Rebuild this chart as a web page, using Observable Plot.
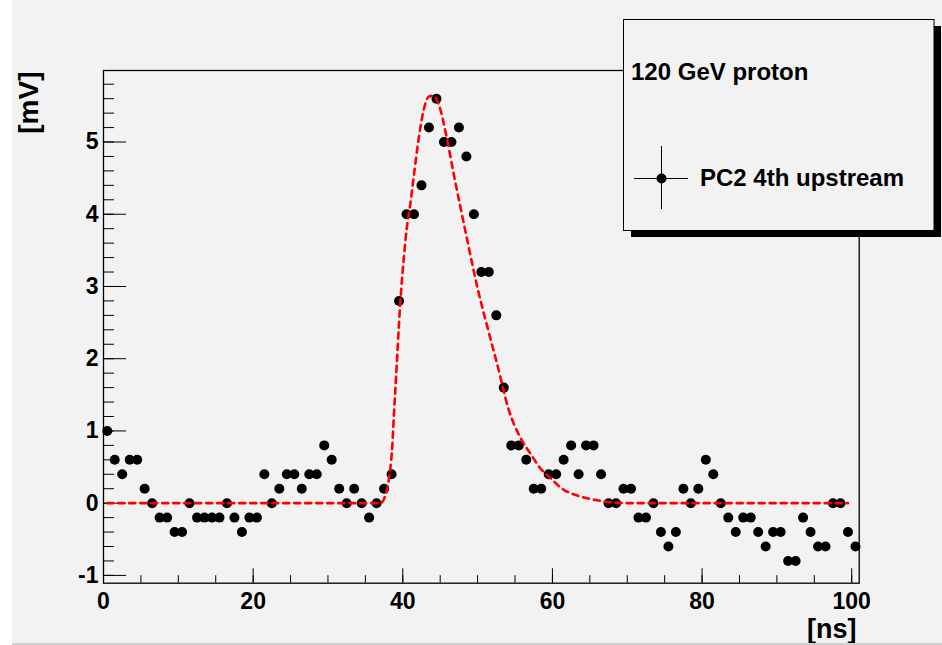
<!DOCTYPE html>
<html>
<head>
<meta charset="utf-8">
<script src="https://cdn.jsdelivr.net/npm/d3@7"></script>
<script src="https://cdn.jsdelivr.net/npm/@observablehq/plot@0.6"></script>
<style>
  html, body { margin: 0; padding: 0; background: #fff; }
  #wrap { position: relative; width: 942px; height: 645px; overflow: hidden; }
  #wrap > svg { position: absolute; left: 0; top: 0; }
  #bottomline { position: absolute; left: 12px; top: 643px; width: 930px; height: 2px; background: #d0d0d0; }
</style>
</head>
<body>
<div id="wrap"><div id="bottomline"></div></div>
<script>
// ---- data ----
const binTimes = d3.range(0.5, 101, 1); // bin centres [ns]
const signal = [
  1.0, 0.6, 0.4, 0.6, 0.6, 0.2, 0.0, -0.2, -0.2, -0.4,
  -0.4, 0.0, -0.2, -0.2, -0.2, -0.2, 0.0, -0.2, -0.4, -0.2,
  -0.2, 0.4, 0.0, 0.2, 0.4, 0.4, 0.2, 0.4, 0.4, 0.8,
  0.6, 0.2, 0.0, 0.2, 0.0, -0.2, 0.0, 0.2, 0.4, 2.8,
  4.0, 4.0, 4.4, 5.2, 5.6, 5.0, 5.0, 5.2, 4.8, 4.0,
  3.2, 3.2, 2.6, 1.6, 0.8, 0.8, 0.6, 0.2, 0.2, 0.4,
  0.4, 0.6, 0.8, 0.4, 0.8, 0.8, 0.4, 0.0, 0.0, 0.2,
  0.2, -0.2, -0.2, 0.0, -0.4, -0.6, -0.4, 0.2, 0.0, 0.2,
  0.6, 0.4, 0.0, -0.2, -0.4, -0.2, -0.2, -0.4, -0.6, -0.4,
  -0.4, -0.8, -0.8, -0.2, -0.4, -0.6, -0.6, 0.0, 0.0, -0.4,
  -0.6
];
const fitTimes  = [0.5, 37.0, 37.5, 37.9, 38.3, 38.6, 38.8, 39.2, 39.5, 39.8, 40.15, 40.5, 40.95, 41.4, 42.2, 42.8, 43.5, 44.1, 44.8, 45.95, 46.8, 47.7, 48.8, 49.96, 51.3, 52.6, 54.2, 55.7, 57.1, 58.4, 59.8, 61.3, 63.8, 66.0, 68.2, 70.0, 99.5];
const fitValues = [0.0, 0.0, 0.06, 0.2, 0.45, 0.8, 1.2, 1.93, 2.5, 2.97, 3.41, 3.78, 4.1, 4.47, 5.1, 5.45, 5.63, 5.64, 5.52, 5.02, 4.56, 4.1, 3.55, 2.99, 2.44, 1.93, 1.28, 0.91, 0.68, 0.48, 0.34, 0.2, 0.09, 0.04, 0.01, 0.0, 0.0];

const xMajorTicks = [0, 20, 40, 60, 80, 100];
const xMinorTicks = [0, 5, 10, 15, 20, 25, 30, 35, 40, 45, 50, 55, 60, 65, 70, 75, 80, 85, 90, 95, 100];
const yMajorTicks = [-1, 0, 1, 2, 3, 4, 5];
const yMinorTicks = d3.range(-5, 30).map(k => k / 5);

const xTitle = "[ns]";
const yTitle = "[mV]";
const legendHeader = "120 GeV proton";
const seriesName = "PC2 4th upstream";

const points = binTimes.map((t, i) => ({t, v: signal[i]}));
const fit = fitTimes.map((t, i) => ({t, v: fitValues[i]}));

const FONT = "'Liberation Sans', Arial, Helvetica, sans-serif";
const BG = "#f2f2f2";

const chart = Plot.plot({
  width: 942,
  height: 645,
  marginLeft: 103,
  marginRight: 83.3,
  marginTop: 70,
  marginBottom: 62.3,
  style: {
    background: `linear-gradient(to right, #fff 12px, ${BG} 12px)`,
    fontFamily: FONT,
    fontSize: "23px",
    fontWeight: "bold",
    color: "black",
    overflow: "visible"
  },
  x: {domain: [0, 101]},
  y: {domain: [-1.108, 5.99]},
  marks: [
    Plot.axisY(yMinorTicks, {tickSize: 11, dx: 11, fill: "none", label: null, strokeWidth: 1}),
    Plot.axisY(yMajorTicks, {tickSize: 23, dx: 23, fill: "none", label: null, strokeWidth: 1}),
    Plot.axisY(yMajorTicks, {tickSize: 0, tickPadding: 5, label: null, tickFormat: d => String(d)}),
    Plot.axisX(xMinorTicks, {tickSize: 7.5, dy: -7.5, fill: "none", label: null, strokeWidth: 1}),
    Plot.axisX(xMajorTicks, {tickSize: 14.5, dy: -14.5, fill: "none", label: null, strokeWidth: 1}),
    Plot.axisX(xMajorTicks, {tickSize: 0, tickPadding: 9.3, label: null, tickFormat: d => String(d)}),
    Plot.frame({stroke: "black", strokeWidth: 1.3}),
    Plot.dot(points, {x: "t", y: "v", r: 5, fill: "black", stroke: "none"}),
    Plot.line(fit, {x: "t", y: "v", stroke: "#ff0000", strokeWidth: 2.6, strokeDasharray: "6,5", curve: "monotone-x"}),
    Plot.text([xTitle], {frameAnchor: "bottom-right", text: d => d, textAnchor: "end", lineAnchor: "bottom", dx: -2.7, dy: 54.5, fontSize: 27, fontWeight: "bold"}),
    Plot.text([yTitle], {frameAnchor: "top-left", text: d => d, textAnchor: "end", lineAnchor: "bottom", rotate: -90, dx: -65.5, dy: 1, fontSize: 28, fontWeight: "bold"})
  ]
});
const wrap = document.getElementById("wrap");
wrap.insertBefore(chart, wrap.firstChild);

// ---- legend box (ROOT TLegend with shadow) ----
const ns = "http://www.w3.org/2000/svg";
const leg = document.createElementNS(ns, "svg");
leg.setAttribute("width", 942);
leg.setAttribute("height", 645);
leg.style.pointerEvents = "none";
leg.innerHTML = `
  <rect x="631" y="26" width="310" height="211" fill="black"/>
  <rect x="623.5" y="19.5" width="310.5" height="211" fill="${BG}" stroke="black" stroke-width="1"/>
  <text x="631" y="80" font-family="${FONT.replace(/'/g, "")}" font-size="24" font-weight="bold" fill="black">${legendHeader}</text>
  <line x1="634" x2="688" y1="178.5" y2="178.5" stroke="black" stroke-width="1"/>
  <line x1="661.5" x2="661.5" y1="146" y2="209" stroke="black" stroke-width="1"/>
  <circle cx="661.5" cy="178.5" r="5" fill="black"/>
  <text x="700" y="186" font-family="${FONT.replace(/'/g, "")}" font-size="24" font-weight="bold" fill="black">${seriesName}</text>
`;
wrap.appendChild(leg);
</script>
</body>
</html>
